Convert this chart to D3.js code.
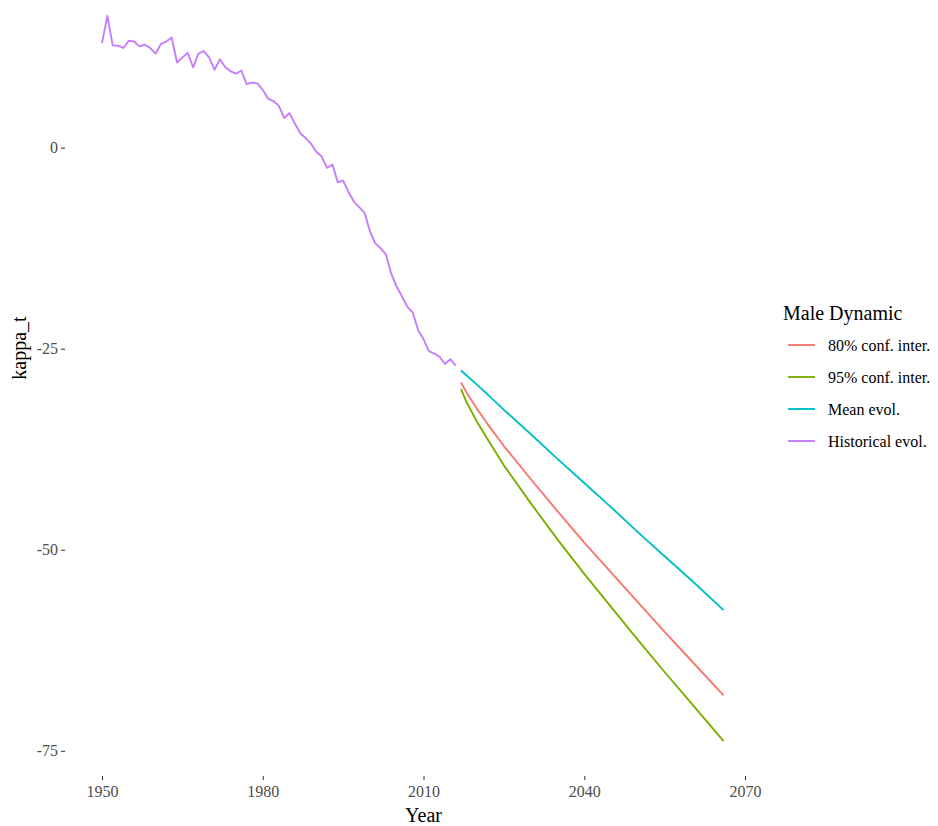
<html>
<head>
  <meta charset="utf-8" />
  <script src="https://cdnjs.cloudflare.com/ajax/libs/d3/7.8.5/d3.min.js"></script>
  <style>
    body { margin: 0; background: #fff; }
    svg text { font-family: "Liberation Serif", "Times New Roman", serif; }
    path.domain { stroke: none; }
    .tick > line { stroke: #333; }
    .tick > text { fill: #4d4d4d; font-size: 16px; }
  </style>
</head>
<body>
  <svg></svg>
  <script>
  // historical kappa_t, 1950..2016
  const histYears = d3.range(1950, 2017);
  const histValues = [
    13.0, 16.4, 12.7, 12.7, 12.4, 13.3, 13.2, 12.6, 12.8, 12.4,
    11.7, 12.9, 13.2, 13.7, 10.6, 11.2, 11.8, 10.0, 11.7, 12.0,
    11.2, 9.7, 11.0, 10.0, 9.5, 9.2, 9.6, 7.9, 8.1, 8.0,
    7.2, 6.1, 5.8, 5.2, 3.7, 4.3, 3.0, 1.8, 1.2, 0.5,
    -0.5, -1.1, -2.5, -2.1, -4.3, -4.1, -5.5, -6.7, -7.4, -8.1,
    -10.4, -11.9, -12.5, -13.3, -15.7, -17.3, -18.5, -19.8, -20.5, -22.7,
    -23.8, -25.3, -25.6, -26.0, -26.9, -26.3, -27.1
  ];

  // forecast, read at selected years
  const fcYears   = [2017, 2018, 2020, 2022, 2025, 2030, 2035, 2040, 2045, 2050, 2055, 2060, 2066];
  const meanEvol  = [-27.7, -28.3, -29.5, -30.7, -32.6, -35.6, -38.7, -41.7, -44.7, -47.8, -50.8, -53.8, -57.5];
  const conf80    = [-29.2, -30.4, -32.5, -34.4, -37.1, -41.2, -45.2, -49.1, -52.8, -56.5, -60.2, -63.8, -68.1];
  const conf95    = [-30.0, -31.6, -34.1, -36.3, -39.5, -44.2, -48.7, -53.0, -57.1, -61.2, -65.2, -69.1, -73.8];

  const xTicks = [1950, 1980, 2010, 2040, 2070];
  const yTicks = [0, -25, -50, -75];

  const legendLabels = ["80% conf. inter.", "95% conf. inter.", "Mean evol.", "Historical evol."];
  const colors = ["#F8766D", "#7CAE00", "#00BFC4", "#C77CFF"];

  const svg = d3.select("svg").attr("width", 938).attr("height", 826);

  const xScale = d3.scaleLinear().domain([1950, 2070]).range([102, 745]);
  const yScale = d3.scaleLinear().domain([0, -75]).range([147.7, 750.8]);

  const xAxis = d3.axisBottom(xScale).tickValues(xTicks).tickFormat(d => String(d))
                  .tickSize(4).tickPadding(6);
  const yAxis = d3.axisLeft(yScale).tickValues(yTicks).tickFormat(d => String(d))
                  .tickSize(4).tickPadding(3);

  svg.append("g").attr("transform", "translate(0,776)").call(xAxis);
  svg.append("g").attr("transform", "translate(65,0)").call(yAxis);

  // axis titles
  svg.append("text").attr("x", xScale(2010)).attr("y", 822)
     .attr("text-anchor", "middle").style("font-size", "20px").text("Year");
  svg.append("text").attr("transform", "translate(26,348) rotate(-90)")
     .attr("text-anchor", "middle").style("font-size", "20px").text("kappa_t");

  const line = d3.line().x(d => xScale(d[0])).y(d => yScale(d[1]));

  const series = [
    fcYears.map((y, i) => [y, conf80[i]]),
    fcYears.map((y, i) => [y, conf95[i]]),
    fcYears.map((y, i) => [y, meanEvol[i]]),
    histYears.map((y, i) => [y, histValues[i]])
  ];

  svg.selectAll("path.series")
     .data(series)
     .enter()
     .append("path")
       .attr("class", "series")
       .attr("d", d => line(d))
       .attr("fill", "none")
       .attr("stroke", (d, i) => colors[i])
       .attr("stroke-width", 1.9)
       .attr("stroke-linejoin", "round");

  // legend
  const legend = svg.append("g").attr("transform", "translate(783,0)");
  legend.append("text").attr("x", 0).attr("y", 320).style("font-size", "20px").text("Male Dynamic");
  const items = legend.selectAll("g.item")
     .data(legendLabels)
     .enter()
     .append("g")
       .attr("class", "item")
       .attr("transform", (d, i) => `translate(0,${345 + i * 32})`);
  items.append("line")
       .attr("x1", 5).attr("x2", 32).attr("y1", 0).attr("y2", 0)
       .attr("stroke", (d, i) => colors[i]).attr("stroke-width", 1.9);
  items.append("text")
       .attr("x", 45).attr("y", 5.5)
       .style("font-size", "16px")
       .text(d => d);
  </script>
</body>
</html>
